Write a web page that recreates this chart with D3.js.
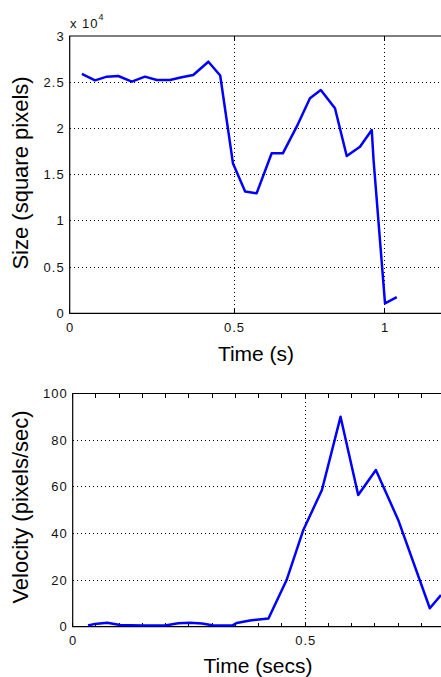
<!DOCTYPE html>
<html>
<head>
<meta charset="utf-8">
<script src="https://cdn.jsdelivr.net/npm/d3@7"></script>
<style>
  html, body { margin: 0; padding: 0; background: #fff; }
  svg { display: block; }
  .tick-label { font-family: "Liberation Sans", Arial, sans-serif; font-size: 13px; letter-spacing: 1px; fill: #111; }
  .axis-label { font-family: "Liberation Sans", Arial, sans-serif; fill: #000; }
</style>
</head>
<body>
<svg id="chart" width="441" height="677"></svg>
<script>
// ---- Top panel: Size (square pixels, x 10^4) vs Time (s)
const sizeTime = [0.037, 0.077, 0.113, 0.148, 0.189, 0.229, 0.265, 0.305, 0.341, 0.376, 0.422, 0.458, 0.497, 0.537, 0.575, 0.625, 0.662, 0.708, 0.752, 0.788, 0.835, 0.874, 0.918, 0.957, 0.963, 1.001, 1.040];
const sizeValues = [2.59, 2.52, 2.56, 2.567, 2.506, 2.56, 2.524, 2.524, 2.553, 2.578, 2.722, 2.573, 1.62, 1.318, 1.298, 1.731, 1.731, 2.019, 2.326, 2.416, 2.218, 1.702, 1.802, 1.983, 1.659, 0.108, 0.176];
const sizeXTicks = [0, 0.5, 1];
const sizeXTickLabels = ["0", "0.5", "1"];
const sizeYTicks = [0, 0.5, 1, 1.5, 2, 2.5, 3];
const sizeYTickLabels = ["0", "0.5", "1", "1.5", "2", "2.5", "3"];

// ---- Bottom panel: Velocity (pixels/sec) vs Time (secs)
const velTime = [0.033, 0.048, 0.074, 0.102, 0.149, 0.199, 0.227, 0.252, 0.278, 0.300, 0.343, 0.353, 0.381, 0.421, 0.460, 0.496, 0.536, 0.576, 0.614, 0.652, 0.700, 0.768, 0.792];
const velValues = [0.5, 1.2, 1.7, 0.7, 0.5, 0.5, 1.5, 1.7, 1.4, 0.6, 0.5, 1.6, 2.7, 3.5, 20, 41.5, 58.6, 90, 56.5, 67.2, 45.8, 7.9, 13.6];
const velXTicks = [0, 0.5];
const velXTickLabels = ["0", "0.5"];
const velXMinorTicks = [0.05, 0.1, 0.15, 0.2, 0.25, 0.3, 0.35, 0.4, 0.45, 0.55, 0.6, 0.65, 0.7, 0.75];
const velYTicks = [0, 20, 40, 60, 80, 100];
const velYTickLabels = ["0", "20", "40", "60", "80", "100"];

const svg = d3.select("#chart");
const BLUE = "#0000ff";

function drawPanel(opts) {
  const g = svg.append("g");
  const { x, y, left, top, bottom, right } = opts;
  const clipId = opts.id + "-clip";
  svg.append("defs").append("clipPath").attr("id", clipId)
    .append("rect").attr("x", left).attr("y", top).attr("width", right - left).attr("height", bottom - top);

  // grid lines
  opts.yTicks.forEach(v => {
    if (v === opts.yTicks[0] || v === opts.yTicks[opts.yTicks.length - 1]) return;
    g.append("line").attr("x1", left).attr("x2", right).attr("y1", y(v)).attr("y2", y(v))
      .attr("stroke", "#000").attr("stroke-width", 1).attr("stroke-dasharray", "1,3")
      .attr("shape-rendering", "crispEdges");
  });
  opts.xTicks.forEach(v => {
    if (v === opts.xTicks[0]) return;
    g.append("line").attr("x1", x(v)).attr("x2", x(v)).attr("y1", top).attr("y2", bottom)
      .attr("stroke", "#000").attr("stroke-width", 1).attr("stroke-dasharray", "1,3")
      .attr("shape-rendering", "crispEdges");
  });

  // x ticks (major + minor) on top and bottom, inward
  const allX = opts.xTicks.concat(opts.xMinor || []);
  allX.forEach(v => {
    g.append("line").attr("x1", x(v)).attr("x2", x(v)).attr("y1", bottom).attr("y2", bottom - 4)
      .attr("stroke", "#000").attr("shape-rendering", "crispEdges");
    g.append("line").attr("x1", x(v)).attr("x2", x(v)).attr("y1", top).attr("y2", top + 4)
      .attr("stroke", "#000").attr("shape-rendering", "crispEdges");
  });

  // axes box (left, top, bottom)
  g.append("path")
    .attr("d", `M${right},${top}H${left}V${bottom}H${right}`)
    .attr("fill", "none").attr("stroke", "#000").attr("stroke-width", 1.2);

  // data line
  const line = d3.line().x(d => x(d[0])).y(d => y(d[1]));
  g.append("path")
    .datum(d3.zip(opts.xs, opts.ys))
    .attr("clip-path", `url(#${clipId})`)
    .attr("d", line)
    .attr("fill", "none").attr("stroke", BLUE).attr("stroke-width", 2.5)
    .attr("stroke-linejoin", "round");

  // tick labels
  opts.yTicks.forEach((v, i) => {
    g.append("text").attr("class", "tick-label")
      .attr("x", left - 5).attr("y", y(v) + 4.5)
      .attr("text-anchor", "end").text(opts.yTickLabels[i]);
  });
  opts.xTicks.forEach((v, i) => {
    g.append("text").attr("class", "tick-label")
      .attr("x", x(v) + 0.5).attr("y", bottom + opts.xLabelOffset)
      .attr("text-anchor", "middle").text(opts.xTickLabels[i]);
  });

  // axis titles
  g.append("text").attr("class", "axis-label").attr("font-size", 21)
    .attr("x", opts.xTitleX).attr("y", opts.xTitleY)
    .attr("text-anchor", "middle").text(opts.xTitle);
  g.append("text").attr("class", "axis-label").attr("font-size", 22)
    .attr("transform", `translate(28,${opts.yTitleY}) rotate(-90)`)
    .attr("text-anchor", "middle").text(opts.yTitle);
  return g;
}

// Top panel scales
const x1 = d3.scaleLinear().domain([0, 0.5, 1.2]).range([69.7, 234, 445]);
const y1 = d3.scaleLinear().domain([0, 3]).range([313.3, 36]);
drawPanel({
  id: "top", x: x1, y: y1, left: 69.7, right: 445, top: 36, bottom: 313.3,
  xs: sizeTime, ys: sizeValues,
  xTicks: sizeXTicks, xTickLabels: sizeXTickLabels,
  yTicks: sizeYTicks, yTickLabels: sizeYTickLabels,
  xLabelOffset: 19, xTitle: "Time (s)", xTitleX: 256, xTitleY: 361,
  yTitle: "Size (square pixels)", yTitleY: 173
});
// exponent label
const expo = svg.append("text").attr("class", "tick-label").attr("x", 70).attr("y", 28);
expo.append("tspan").text("x 10");
expo.append("tspan").attr("font-size", 9).attr("dy", -8).text("4");

// Bottom panel scales
const x2 = d3.scaleLinear().domain([0, 0.8]).range([72.7, 72.7 + 0.8 * 465]);
const y2 = d3.scaleLinear().domain([0, 100]).range([626.7, 393.5]);
drawPanel({
  id: "bot", x: x2, y: y2, left: 72.7, right: 445, top: 393.5, bottom: 626.7,
  xs: velTime, ys: velValues,
  xTicks: velXTicks, xTickLabels: velXTickLabels, xMinor: velXMinorTicks,
  yTicks: velYTicks, yTickLabels: velYTickLabels,
  xLabelOffset: 18, xTitle: "Time (secs)", xTitleX: 258, xTitleY: 673,
  yTitle: "Velocity (pixels/sec)", yTitleY: 507
});
</script>
</body>
</html>
